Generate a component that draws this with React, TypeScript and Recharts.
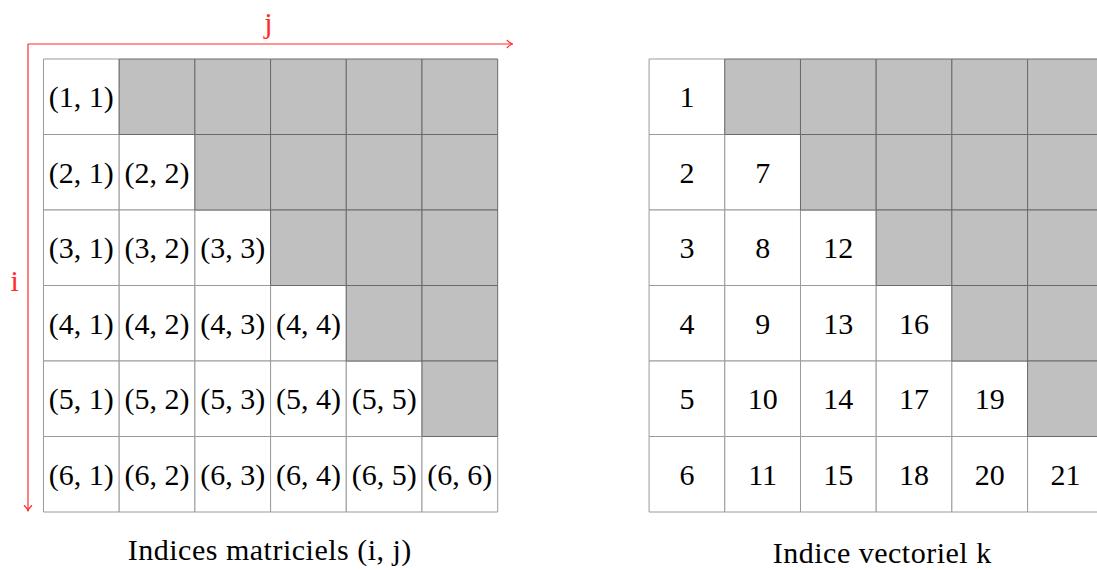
import { ComposedChart, XAxis, YAxis, Scatter, ReferenceArea, ReferenceLine } from 'recharts'

// grid content, row by row (row 1 at the top)
const rowNums = [1, 2, 3, 4, 5, 6]
const colNums = [1, 2, 3, 4, 5, 6]
const kByRow = [
  [1],
  [2, 7],
  [3, 8, 12],
  [4, 9, 13, 16],
  [5, 10, 14, 17, 19],
  [6, 11, 15, 18, 20, 21],
]
const leftTitle = 'Indices matriciels (i, j)'
const rightTitle = 'Indice vectoriel k'
const axisI = 'i'
const axisJ = 'j'

const W = 1097
const H = 570
const RIGHT_OFFSET = 8 // right grid starts 8 cell widths after the left one
const FONT = '"Liberation Serif", "Times New Roman", serif'
const RED = '#ff2a2a'
const GREY_FILL = '#c0c0c0'

type Pt = { x: number; y: number; label: string; color?: string; spacing?: number }

function cells(offset: number) {
  const out: { x1: number; y1: number; filled: boolean }[] = []
  rowNums.forEach((r, ri) => {
    colNums.forEach((c, ci) => {
      out.push({ x1: offset + ci, y1: ri, filled: c > r })
    })
  })
  return out
}

const leftCells = cells(0)
const rightCells = cells(RIGHT_OFFSET)

const leftLabels: Pt[] = []
rowNums.forEach((r, ri) =>
  colNums.forEach((c, ci) => {
    if (c <= r) leftLabels.push({ x: ci + 0.5, y: ri + 0.5, label: `(${r}, ${c})` })
  })
)
const rightLabels: Pt[] = []
kByRow.forEach((row, ri) =>
  row.forEach((k, ci) => rightLabels.push({ x: RIGHT_OFFSET + ci + 0.5, y: ri + 0.5, label: String(k) }))
)

const notes: Pt[] = [
  { x: 2.97, y: -0.48, label: axisJ, color: RED },
  { x: -0.38, y: 2.93, label: axisI, color: RED },
  { x: 2.99, y: 6.5, label: leftTitle, spacing: 0.5 },
  { x: 11.08, y: 6.54, label: rightTitle, spacing: 0.5 },
]

function TextMark(props: any) {
  const { cx, cy, payload } = props
  return (
    <text
      x={cx}
      y={cy}
      textAnchor="middle"
      dominantBaseline="central"
      fontFamily={FONT}
      fontSize={30}
      letterSpacing={payload.spacing || 0}
      fill={payload.color || '#000'}
    >
      {payload.label}
    </text>
  )
}

function Arrow(props: any) {
  const { x1, y1, x2, y2 } = props
  const dx = x2 - x1
  const dy = y2 - y1
  const len = Math.hypot(dx, dy) || 1
  const ux = dx / len
  const uy = dy / len
  const px = -uy
  const py = ux
  const back = 6
  const side = 4
  return (
    <g stroke={RED} strokeWidth={1.2} fill="none">
      <line x1={x1} y1={y1} x2={x2} y2={y2} />
      <path
        d={`M${x2 - ux * back + px * side},${y2 - uy * back + py * side} Q${x2 - ux * 2},${y2 - uy * 2} ${x2},${y2} Q${x2 - ux * 2},${y2 - uy * 2} ${x2 - ux * back - px * side},${y2 - uy * back - py * side}`}
      />
    </g>
  )
}

export default function App() {
  return (
    <div style={{ position: 'absolute', left: 0, top: 0, background: '#fff' }}>
      <ComposedChart width={W} height={H} margin={{ top: 0, right: 0, bottom: 0, left: 0 }}>
        <XAxis type="number" dataKey="x" domain={[-0.5746, 13.917]} allowDataOverflow hide />
        <YAxis type="number" dataKey="y" domain={[-0.7815, 6.768]} reversed allowDataOverflow hide />

        {[...leftCells, ...rightCells]
          .filter((c) => !c.filled)
          .map((c) => (
            <ReferenceArea
              key={`w-${c.x1}-${c.y1}`}
              x1={c.x1}
              x2={c.x1 + 1}
              y1={c.y1}
              y2={c.y1 + 1}
              fill="#fff"
              fillOpacity={1}
              stroke="#9a9a9a"
              strokeWidth={1}
              ifOverflow="visible"
            />
          ))}
        {[...leftCells, ...rightCells]
          .filter((c) => c.filled)
          .map((c) => (
            <ReferenceArea
              key={`g-${c.x1}-${c.y1}`}
              x1={c.x1}
              x2={c.x1 + 1}
              y1={c.y1}
              y2={c.y1 + 1}
              fill={GREY_FILL}
              fillOpacity={1}
              stroke="#6a6a6a"
              strokeWidth={1}
              ifOverflow="visible"
            />
          ))}

        <ReferenceLine
          segment={[{ x: -0.205, y: -0.199 }, { x: 6.2, y: -0.199 }]}
          shape={<Arrow />}
          ifOverflow="visible"
        />
        <ReferenceLine
          segment={[{ x: -0.205, y: -0.199 }, { x: -0.205, y: 5.99 }]}
          shape={<Arrow />}
          ifOverflow="visible"
        />

        <Scatter data={leftLabels} shape={<TextMark />} isAnimationActive={false} />
        <Scatter data={rightLabels} shape={<TextMark />} isAnimationActive={false} />
        <Scatter data={notes} shape={<TextMark />} isAnimationActive={false} />
      </ComposedChart>
    </div>
  )
}
